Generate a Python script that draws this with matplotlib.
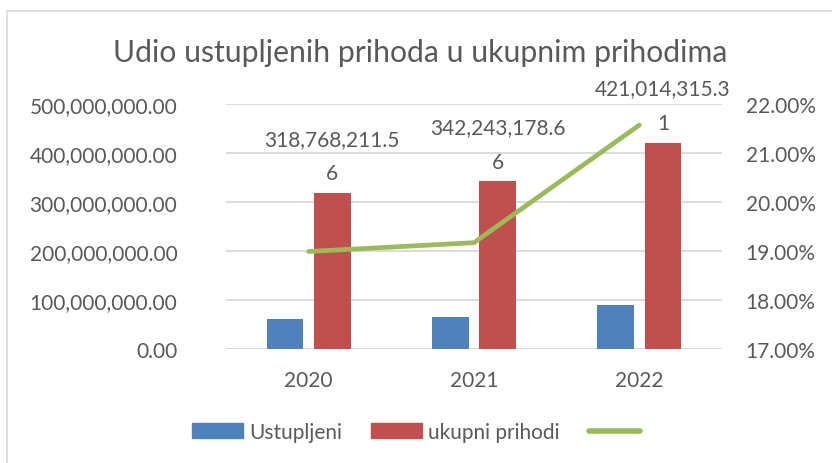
import matplotlib
matplotlib.use("Agg")
import matplotlib.pyplot as plt
from matplotlib.patches import Patch, Rectangle
from matplotlib.lines import Line2D
from matplotlib.ticker import FuncFormatter
import numpy as np

plt.rcParams['font.family'] = ['Lato', 'DejaVu Sans']

years = ["2020", "2021", "2022"]
ustupljeni = [60.6e6, 65.6e6, 90.8e6]
ukupni = [318768211.56, 342243178.66, 421014315.31]
udio = [0.1899, 0.1917, 0.2157]

BLUE = "#4F81BD"
RED = "#C0504D"
GREEN = "#9BBB59"
TXT = "#595959"
GRID = "#D9D9D9"

fig = plt.figure(figsize=(8.32, 4.64), dpi=100)
W, H = 832, 464

# chart border (cropped on the right and bottom)
fig.patches.append(Rectangle((7 / W, -0.1), 1.2, 1 - 12 / H + 0.1, transform=fig.transFigure,
                             fill=False, edgecolor=GRID, lw=1.2))

ax = fig.add_axes([226 / W, 1 - 350 / H, (722 - 226) / W, (350 - 105) / H])
x = np.arange(len(years))
bw = 0.223
off = 0.143
ax.bar(x - off, ustupljeni, bw, color=BLUE, zorder=2)
ax.bar(x + off, ukupni, bw, color=RED, zorder=2)

ax.set_xlim(-0.5, 2.5)
ax.set_ylim(0, 500e6)
ax.set_yticks(np.arange(0, 500e6 + 1, 100e6))
ax.yaxis.set_major_formatter(FuncFormatter(lambda v, p: "{:,.2f}".format(v)))
ax.set_xticks(x)
ax.set_xticklabels(years)
ax.grid(axis="y", color=GRID, lw=1.3, zorder=0)
ax.set_axisbelow(True)
for s in ax.spines.values():
    s.set_visible(False)
ax.tick_params(axis="both", length=0, labelsize=15, colors=TXT)
ax.tick_params(axis="y", pad=35)
ax.tick_params(axis="x", pad=15)

for xi, v in zip(x, ukupni):
    s = "{:,.2f}".format(v)
    ax.text(xi + off, v + 20e6, s[:-1] + "\n" + s[-1], ha="center", va="bottom",
            fontsize=15, color=TXT, linespacing=1.9, zorder=5)

ax2 = ax.twinx()
ax2.plot(x, udio, color=GREEN, lw=3.4, solid_capstyle="round", zorder=4)
ax2.set_ylim(0.17, 0.22)
ax2.set_yticks(np.arange(0.17, 0.2201, 0.01))
ax2.yaxis.set_major_formatter(FuncFormatter(lambda v, p: "{:.2f}%".format(v * 100)))
for s in ax2.spines.values():
    s.set_visible(False)
ax2.tick_params(axis="y", length=0, labelsize=15, colors=TXT, pad=17)

fig.text(420 / W, 1 - 53 / H, "Udio ustupljenih prihoda u ukupnim prihodima",
         ha="center", va="center", fontsize=21.7, color=TXT)

handles = [Patch(color=BLUE), Patch(color=RED), Line2D([], [], color=GREEN, lw=4, solid_capstyle="round")]
fig.legend(handles, ["Ustupljeni", "ukupni prihodi", ""], loc="center",
           bbox_to_anchor=(419 / W, 1 - 433 / H), ncol=3, frameon=False,
           fontsize=15, labelcolor=TXT, handlelength=2.45, handleheight=0.7,
           handletextpad=0.3, columnspacing=1.4)

fig.savefig("out.png", dpi=100)
